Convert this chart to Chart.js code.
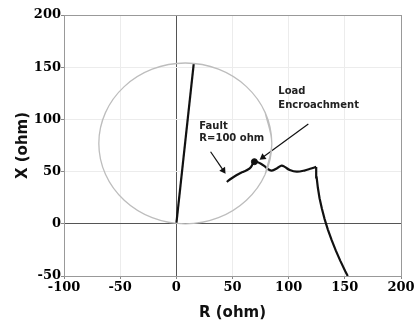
<!DOCTYPE html>
<html><head><meta charset="utf-8">
<script src="https://cdn.jsdelivr.net/npm/chart.js@4"></script>
<style>html,body{margin:0;padding:0;background:#fff}#wrap{width:417px;height:325px}</style>
</head><body><div id="wrap"><canvas id="c" width="417" height="325"></canvas></div>
<script>
// Axis ticks
const rTicks = [-100, -50, 0, 50, 100, 150, 200];
const xTicks = [-50, 0, 50, 100, 150, 200];

// Mho circle points (R, X)
const circleR = [79.1, 85, 79.1, 62.4, 37.5, 8, -21.5, -46.4, -63.1, -69, -63.1, -46.4, -21.5, 8, 37.5, 62.4, 79.1, 85, 79.1];
const circleX = [47.5, 77, 106.5, 131.4, 148.1, 154, 148.1, 131.4, 106.5, 77, 47.5, 22.6, 5.9, 0, 5.9, 22.6, 47.5, 77, 106.5];

// Line impedance
const lineR = [0, 15.5];
const lineX = [0, 153.5];

// Impedance trajectory, part 1: load point falling in from below
const trajDropR = [152.6, 150.4, 146, 141.9, 138.2, 134.9, 132, 129.6, 127.5, 126, 124.9, 124.5];
const trajDropX = [-50, -45.5, -35.5, -25.5, -15.5, -5.5, 4.5, 14.5, 24.5, 34.5, 44.5, 54.5];

// Impedance trajectory, part 2: oscillation towards the fault
const trajOscR = [124.5, 120, 114, 107.2, 101, 96.5, 93.8, 90, 85, 81.5, 79, 74.5, 69.5, 66.5, 63, 59.7, 56.7, 53.8, 49.3, 46.3, 45];
const trajOscX = [54.5, 53, 51, 49.9, 51.5, 54.5, 55.8, 53.5, 50.9, 52.5, 54.7, 58, 59.5, 54.5, 51.5, 49.9, 48.4, 46.7, 43.6, 41.3, 40];

// Load encroachment marker
const markerR = [69.5];
const markerX = [59.5];

// Annotation arrows
const faultArrowR = [30.5, 41.8];
const faultArrowX = [69, 51.2];
const loadArrowR = [117.5, 77];
const loadArrowX = [95.5, 63.7];

// Annotation labels
const labelTexts = ['Fault', 'R=100 ohm', 'Load', 'Encroachment'];
const labelR = [20.5, 20.5, 90.8, 90.8];
const labelX = [93.7, 82, 126.5, 113.8];

const pts = (a, b) => a.map((v, i) => ({x: v, y: b[i]}));

function arrowRotation(c) {
  const d = c.dataset.data;
  const sx = c.chart.scales.x, sy = c.chart.scales.y;
  const a = d[0], b = d[d.length - 1];
  const dx = sx.getPixelForValue(b.x) - sx.getPixelForValue(a.x);
  const dy = sy.getPixelForValue(b.y) - sy.getPixelForValue(a.y);
  return Math.atan2(dx, -dy) * 180 / Math.PI;
}

const labelPlugin = {
  id: 'labels',
  afterDatasetsDraw(chart) {
    const ctx = chart.ctx, sx = chart.scales.x, sy = chart.scales.y;
    ctx.save();
    ctx.font = 'bold 10px "DejaVu Sans", sans-serif';
    ctx.fillStyle = '#222';
    ctx.textAlign = 'left';
    ctx.textBaseline = 'middle';
    labelTexts.forEach((t, i) => ctx.fillText(t, sx.getPixelForValue(labelR[i]), sy.getPixelForValue(labelX[i])));
    ctx.restore();
  }
};

function gridColor(edgeMin, edgeMax) {
  return (c) => {
    const v = c.tick && c.tick.value;
    if (v === 0) return '#555';
    if (v === edgeMin || v === edgeMax) return '#999';
    return '#ececec';
  };
}

const tickFont = {family: '"DejaVu Serif", serif', size: 13, weight: 'bold'};
const titleFont = {family: '"DejaVu Sans", sans-serif', size: 15, weight: 'bold'};

new Chart(document.getElementById('c'), {
  type: 'scatter',
  data: {
    datasets: [
      {data: pts(circleR, circleX), showLine: true, borderColor: '#bdbdbd', borderWidth: 1.3, pointRadius: 0, tension: 0.35, fill: false},
      {data: pts(lineR, lineX), showLine: true, borderColor: '#111', borderWidth: 2.2, pointRadius: 0},
      {data: pts(trajDropR, trajDropX), showLine: true, borderColor: '#111', borderWidth: 2.2, pointRadius: 0, tension: 0},
      {data: pts(trajOscR, trajOscX), showLine: true, borderColor: '#111', borderWidth: 2.2, pointRadius: 0, tension: 0.35},
      {data: pts(markerR, markerX), showLine: false, backgroundColor: '#111', borderColor: '#111', pointRadius: 3},
      {data: pts(faultArrowR, faultArrowX), showLine: true, borderColor: '#111', borderWidth: 1.2,
       pointStyle: 'triangle', pointRadius: [0, 4], backgroundColor: '#111', pointBorderWidth: 0, rotation: arrowRotation},
      {data: pts(loadArrowR, loadArrowX), showLine: true, borderColor: '#111', borderWidth: 1.2,
       pointStyle: 'triangle', pointRadius: [0, 4], backgroundColor: '#111', pointBorderWidth: 0, rotation: arrowRotation}
    ]
  },
  options: {
    responsive: false,
    animation: false,
    devicePixelRatio: 1,
    layout: {padding: {top: 15, right: 16, left: 0, bottom: 0}},
    plugins: {legend: {display: false}, tooltip: {enabled: false}},
    scales: {
      x: {
        type: 'linear', min: -100, max: 200,
        afterBuildTicks: s => { s.ticks = rTicks.map(v => ({value: v})); },
        afterFit: s => { s.height = 49; },
        ticks: {font: tickFont, color: '#000', padding: 1, maxRotation: 0},
        grid: {color: gridColor(-100, 200), tickColor: '#888', tickLength: 3},
        border: {color: '#999'},
        title: {display: true, text: 'R (ohm)', font: titleFont, color: '#111', padding: {top: 0, bottom: 3}}
      },
      y: {
        type: 'linear', min: -50, max: 200,
        afterBuildTicks: s => { s.ticks = xTicks.map(v => ({value: v})); },
        afterFit: s => { s.width = 64; },
        ticks: {font: tickFont, color: '#000', padding: 0},
        grid: {color: gridColor(-50, 200), tickColor: '#888', tickLength: 3},
        border: {color: '#999'},
        title: {display: true, text: 'X (ohm)', font: titleFont, color: '#111', padding: {top: 14, bottom: 0}}
      }
    }
  },
  plugins: [labelPlugin]
});
</script>
</body></html>
